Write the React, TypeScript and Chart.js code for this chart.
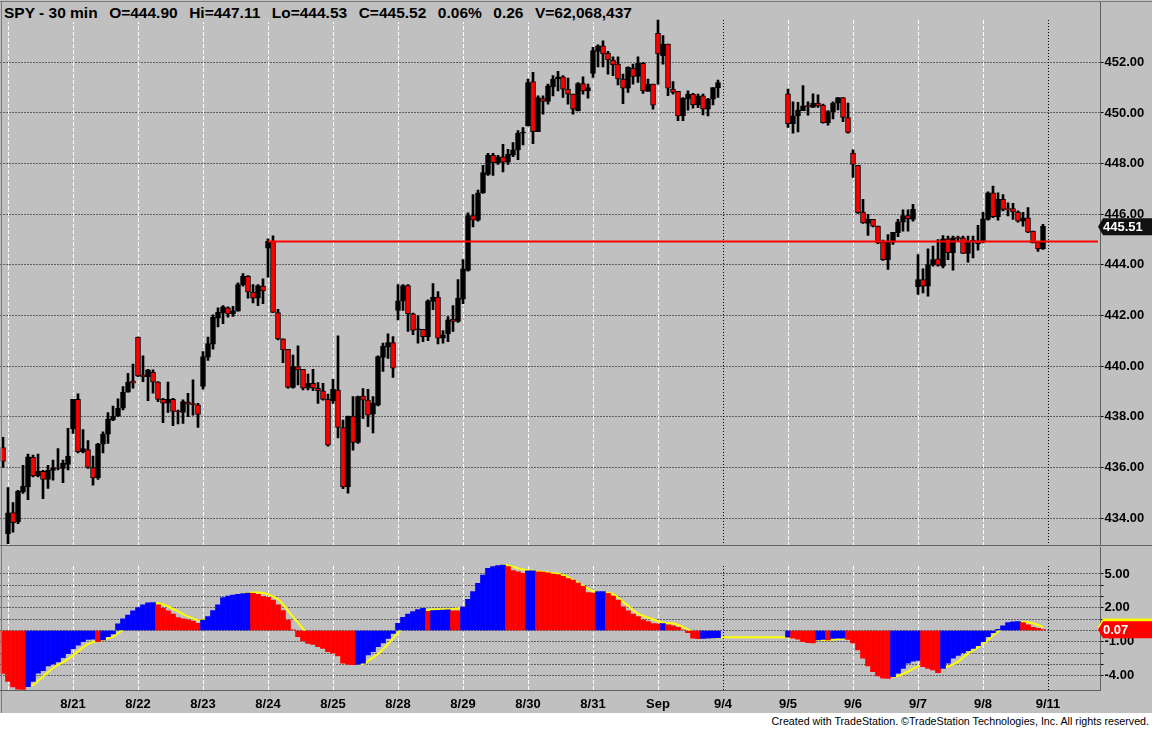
import { useEffect, useRef } from 'react';
import { Chart, registerables } from 'chart.js';

Chart.register(...registerables);
Chart.defaults.font.family = '"Liberation Sans", Arial, sans-serif';

// first bar of each session, and its axis label
const dayStarts = [1, 14, 27, 40, 53, 66, 79, 92, 105, 118, 131, 144, 157, 170, 183, 196, 209];
const dayLabels = ['', '8/21', '8/22', '8/23', '8/24', '8/25', '8/28', '8/29', '8/30', '8/31', 'Sep', '9/4', '9/5', '9/6', '9/7', '9/8', '9/11'];
const barSlots = 220;

const NA = null;

// 30 min bars, one row per session (9/4 is empty)
const opens = [
  436.79,
  433.39, 434.22, 433.85, 435.04, 435.23, 436.40, 435.67, 435.85, 435.53, 435.88, 436.00, 435.96, 436.12,
  437.52, 438.69, 436.63, 436.71, 436.00, 435.59, 436.92, 437.32, 437.88, 438.03, 438.34, 438.97, 439.42,
  441.15, 439.66, 439.59, 439.76, 439.37, 438.69, 438.54, 438.69, 438.22, 438.17, 438.58, 438.52, 438.47,
  439.20, 440.36, 440.87, 441.90, 442.10, 442.30, 442.06, 442.17, 443.22, 443.55, 442.93, 442.69, 443.16,
  444.66, 444.93, 442.12, 441.08, 440.67, 439.16, 439.98, 439.88, 439.13, 439.32, 439.13, 439.03, 438.69,
  438.64, 439.06, 437.58, 435.23, 438.03, 436.99, 438.82, 438.66, 438.11, 438.46, 440.35, 440.75, 440.93,
  442.20, 442.58, 443.18, 442.07, 441.44, 441.46, 441.17, 442.56, 442.73, 441.11, 441.28, 441.86, 441.77,
  442.65, 443.78, 445.95, 445.77, 446.85, 447.57, 448.33, 448.04, 448.27, 448.06, 448.33, 448.54, 449.20,
  449.49, 451.24, 449.26, 450.57, 450.45, 451.03, 451.34, 451.43, 450.94, 450.74, 450.08, 451.16, 450.87,
  451.56, 452.43, 452.65, 452.35, 452.09, 451.93, 451.34, 450.98, 451.76, 451.44, 451.96, 450.85, 451.14,
  453.14, 452.26, 452.72, 450.94, 450.85, 449.88, 450.55, 450.74, 450.32, 450.68, 450.15, 450.54, 451.00,
  NA, NA, NA, NA, NA, NA, NA, NA, NA, NA, NA, NA, NA,
  450.75, 449.58, 449.89, 450.09, 450.28, 450.22, 450.39, 450.31, 449.62, 450.05, 450.39, 450.61, 449.82,
  448.41, 447.93, 446.09, 445.64, 445.80, 445.53, 444.90, 444.21, 444.90, 445.27, 445.69, 445.95, 445.80,
  443.13, 443.42, 443.16, 444.01, 444.24, 443.95, 445.03, 444.48, 445.07, 445.07, 444.45, 444.94, 444.94,
  444.90, 445.80, 446.85, 445.90, 446.59, 446.22, 446.22, 446.09, 445.73, 445.86, 445.33, 444.90, 444.64,
];

const highs = [
  437.19,
  435.21, 434.61, 435.10, 436.09, 436.53, 436.49, 436.53, 435.89, 436.09, 436.29, 436.75, 436.29, 437.55,
  438.69, 438.91, 437.50, 437.06, 436.45, 436.95, 437.41, 438.17, 438.43, 438.71, 439.20, 439.72, 440.08,
  441.15, 440.41, 439.88, 439.86, 439.39, 438.73, 439.37, 438.73, 438.27, 438.67, 438.93, 439.46, 438.53,
  440.58, 441.15, 442.03, 442.30, 442.39, 442.34, 442.36, 443.29, 443.66, 443.58, 443.22, 443.22, 443.45,
  445.03, 445.15, 442.25, 441.08, 440.67, 440.44, 440.80, 439.88, 439.69, 439.88, 439.35, 439.32, 438.90,
  439.48, 441.20, 437.87, 438.03, 438.80, 438.82, 439.12, 439.09, 438.80, 440.41, 440.91, 441.28, 441.17,
  443.22, 443.22, 443.22, 442.10, 442.00, 441.46, 442.62, 443.26, 442.95, 441.41, 441.96, 442.39, 443.42,
  444.21, 446.06, 446.78, 446.95, 447.93, 448.40, 448.40, 448.33, 448.76, 448.56, 448.83, 449.30, 449.42,
  451.34, 451.60, 450.68, 450.68, 451.14, 451.47, 451.64, 451.47, 451.38, 450.74, 451.20, 451.43, 451.14,
  452.59, 452.69, 452.85, 452.43, 452.22, 452.22, 451.53, 451.82, 451.93, 452.22, 452.00, 451.34, 451.14,
  453.67, 453.05, 452.72, 451.24, 450.85, 450.61, 450.87, 450.77, 450.74, 450.74, 450.58, 451.00, 451.30,
  NA, NA, NA, NA, NA, NA, NA, NA, NA, NA, NA, NA, NA,
  450.94, 450.44, 450.42, 451.08, 450.44, 450.75, 450.71, 450.35, 450.09, 450.44, 450.61, 450.61, 450.39,
  448.54, 447.93, 446.59, 446.00, 445.80, 445.53, 444.98, 445.20, 445.29, 445.80, 446.17, 446.17, 446.39,
  444.41, 443.84, 444.63, 444.74, 445.00, 445.16, 445.14, 445.14, 445.14, 445.14, 445.14, 445.14, 445.56,
  446.08, 446.88, 447.11, 446.85, 446.78, 446.45, 446.43, 446.13, 446.08, 446.26, 445.33, 444.90, 445.60,
];

const lows = [
  436.00,
  432.99, 433.45, 433.78, 434.98, 434.73, 435.63, 435.63, 434.77, 435.17, 435.50, 435.90, 435.40, 435.90,
  437.35, 436.58, 436.58, 435.96, 435.30, 435.53, 436.58, 436.95, 437.85, 438.01, 438.27, 438.97, 439.13,
  439.59, 439.39, 438.64, 438.93, 438.60, 437.77, 438.17, 437.65, 437.72, 437.74, 438.01, 438.07, 437.58,
  439.09, 440.23, 440.67, 441.55, 441.68, 441.94, 441.97, 442.17, 443.16, 442.69, 442.50, 442.39, 442.47,
  443.52, 442.12, 441.04, 440.14, 439.13, 439.13, 439.26, 439.06, 439.06, 439.03, 438.53, 438.66, 436.84,
  438.53, 437.17, 435.16, 434.99, 436.68, 436.95, 437.94, 437.61, 437.37, 438.43, 439.79, 440.31, 439.56,
  441.83, 442.20, 441.37, 441.24, 440.91, 440.97, 441.01, 442.23, 440.88, 440.91, 440.97, 441.37, 441.73,
  442.47, 443.75, 445.50, 445.73, 446.82, 447.53, 447.53, 447.97, 447.67, 447.97, 448.27, 448.15, 448.74,
  449.49, 448.79, 449.26, 449.95, 450.35, 450.67, 450.87, 450.61, 450.35, 449.95, 450.08, 450.74, 450.58,
  451.40, 451.82, 451.82, 451.53, 451.47, 451.11, 450.37, 450.81, 451.14, 451.20, 450.77, 450.85, 450.15,
  451.14, 451.93, 450.68, 450.74, 449.69, 449.69, 450.11, 450.19, 450.21, 449.92, 449.88, 450.32, 450.61,
  NA, NA, NA, NA, NA, NA, NA, NA, NA, NA, NA, NA, NA,
  449.43, 449.20, 449.25, 450.09, 449.91, 450.22, 450.22, 449.60, 449.52, 449.76, 450.12, 449.65, 449.20,
  447.45, 446.03, 445.64, 445.16, 445.50, 444.84, 444.18, 443.82, 444.81, 445.11, 445.33, 445.33, 445.73,
  442.83, 442.89, 442.76, 443.95, 443.95, 443.88, 444.21, 443.79, 444.95, 444.45, 444.11, 444.28, 444.58,
  444.87, 445.77, 445.86, 445.77, 446.13, 445.93, 445.80, 445.69, 445.53, 445.27, 444.87, 444.53, 444.61,
];

const closes = [
  436.24,
  434.21, 433.82, 435.06, 435.26, 436.42, 435.67, 435.85, 435.53, 435.89, 435.99, 435.96, 436.16, 436.45,
  438.69, 436.63, 436.75, 436.00, 435.59, 436.92, 437.32, 437.91, 438.03, 438.34, 438.97, 439.37, 439.33,
  439.62, 439.58, 439.86, 439.37, 438.69, 438.54, 438.69, 438.21, 438.20, 438.60, 438.50, 438.48, 438.10,
  440.38, 440.89, 441.94, 442.13, 442.34, 442.06, 442.19, 443.22, 443.55, 442.93, 442.69, 443.18, 442.97,
  444.93, 442.12, 441.08, 440.64, 439.16, 439.98, 439.85, 439.13, 439.32, 439.13, 439.03, 438.69, 436.88,
  439.09, 437.58, 435.23, 438.03, 436.99, 438.80, 438.66, 438.07, 438.53, 440.38, 440.78, 440.93, 439.92,
  442.58, 443.18, 442.07, 441.41, 441.48, 441.17, 442.58, 442.73, 441.11, 441.24, 441.83, 441.77, 442.69,
  443.84, 445.95, 445.77, 446.85, 447.64, 448.33, 448.04, 448.27, 448.06, 448.37, 448.54, 449.20, 449.22,
  451.20, 449.26, 450.61, 450.45, 451.07, 451.34, 451.43, 450.94, 450.74, 450.15, 451.16, 450.87, 451.00,
  452.46, 452.65, 452.33, 452.09, 451.90, 451.34, 450.98, 451.80, 451.44, 451.96, 450.87, 451.14, 450.31,
  452.33, 452.72, 450.98, 450.81, 449.88, 450.58, 450.74, 450.32, 450.68, 450.15, 450.54, 451.00, 451.20,
  NA, NA, NA, NA, NA, NA, NA, NA, NA, NA, NA, NA, NA,
  449.58, 449.89, 450.11, 450.28, 450.25, 450.39, 450.28, 449.62, 450.05, 450.39, 450.61, 449.82, 449.23,
  447.97, 446.06, 445.66, 445.80, 445.53, 444.87, 444.21, 444.90, 445.29, 445.69, 445.95, 445.82, 446.19,
  443.42, 443.16, 444.01, 444.21, 443.99, 445.03, 444.48, 445.07, 445.05, 444.45, 444.94, 444.97, 444.84,
  445.82, 446.85, 445.90, 446.59, 446.19, 446.17, 446.09, 445.73, 445.86, 445.29, 444.87, 444.63, 445.52,
];

// oscillator histogram and its yellow average
const histogram = [
  -3.8,
  -4.5, -5.0, -5.2, -5.22, -4.97, -4.5, -3.79, -3.55, -3.14, -2.97, -2.79, -2.4, -2.05,
  -1.61, -1.3, -0.99, -0.8, -0.78, -0.99, -0.84, -0.55, -0.3, 0.58, 1.02, 1.37, 1.73,
  2.02, 2.26, 2.44, 2.46, 2.26, 1.96, 1.73, 1.46, 1.14, 1.02, 0.93, 0.84, 0.63,
  0.93, 1.22, 1.76, 2.26, 2.91, 3.05, 3.14, 3.2, 3.27, 3.3, 3.28, 3.2, 3.0,
  2.94, 2.7, 2.26, 1.76, 0.93, 0.05, -0.55, -0.9, -1.14, -1.23, -1.43, -1.58, -1.87,
  -2.02, -2.26, -2.9, -3.0, -3.02, -3.0, -2.9, -2.17, -1.87, -1.43, -1.1, -0.7, -0.25,
  0.63, 1.16, 1.46, 1.67, 1.85, 1.96, 1.7, 1.76, 1.79, 1.81, 1.83, 1.75, 1.73,
  2.1, 2.76, 3.44, 4.17, 4.9, 5.5, 5.65, 5.75, 5.8, 5.65, 5.3, 5.2, 5.06,
  5.27, 5.29, 5.2, 5.18, 5.1, 5.0, 4.95, 4.8, 4.6, 4.47, 4.2, 3.9, 3.35,
  3.3, 3.44, 3.45, 3.29, 3.05, 2.7, 2.1, 1.73, 1.46, 1.22, 0.93, 0.78, 0.6,
  0.58, 0.6, 0.49, 0.4, 0.28, 0.04, -0.19, -0.69, -0.72, -0.71, -0.69, -0.66, -0.63,
  NA, NA, NA, NA, NA, NA, NA, NA, NA, NA, NA, NA, NA,
  -0.6, -0.69, -0.78, -0.99, -1.08, -1.1, -0.84, -0.8, -0.84, -0.7, -0.69, -0.68, -0.8,
  -1.1, -1.73, -2.46, -3.14, -3.64, -4.03, -4.23, -4.25, -4.09, -3.79, -3.35, -2.9, -2.72,
  -2.65, -3.2, -3.35, -3.5, -3.73, -3.35, -2.9, -2.46, -2.2, -1.96, -1.78, -1.58, -1.35,
  -0.99, -0.55, -0.19, 0.1, 0.4, 0.69, 0.76, 0.78, 0.69, 0.49, 0.28, 0.19, 0.07,
];

const signal = [
  NA,
  NA, NA, NA, NA, -4.97, -4.82, -4.45, -4.09, -3.7, -3.35, -3.05, -2.8, -2.55,
  -2.2, -1.85, -1.5, -1.2, -1.02, -0.92, -0.84, -0.7, -0.55, -0.25, 0.08, 0.5, 0.9,
  1.3, 1.7, 2.05, 2.32, 2.42, 2.3, 2.12, 1.9, 1.7, 1.45, 1.25, 1.05, 0.9,
  0.92, 1.05, 1.3, 1.7, 2.15, 2.55, 2.85, 3.08, 3.23, 3.32, 3.36, 3.36, 3.32,
  3.2, 3.0, 2.76, 2.3, 1.75, 1.2, 0.7, 0.15, -0.35, -0.75, -1.1, -1.4, -1.65,
  -1.9, -2.15, -2.45, -2.7, -2.85, -2.95, -2.96, -2.7, -2.4, -2.08, -1.65, -1.2, -0.7,
  -0.2, 0.3, 0.75, 1.15, 1.45, 1.68, 1.82, 1.85, 1.86, 1.87, 1.88, 1.9, 1.95,
  2.05, 2.3, 2.75, 3.3, 3.95, 4.55, 5.1, 5.5, 5.78, 5.75, 5.65, 5.5, 5.4,
  5.33, 5.28, 5.22, 5.17, 5.13, 5.08, 5.03, 4.9, 4.72, 4.45, 4.22, 3.95, 3.7,
  3.48, 3.4, 3.36, 3.34, 3.23, 2.9, 2.55, 2.2, 1.81, 1.5, 1.28, 1.12, 0.99,
  0.82, 0.69, 0.65, 0.62, 0.5, 0.3, 0.1, -0.25, -0.5, -0.6, -0.63, -0.62, -0.6,
  -0.6, -0.6, -0.6, -0.6, -0.6, -0.6, -0.6, -0.6, -0.6, -0.6, -0.6, -0.6, -0.6,
  -0.6, -0.62, -0.65, -0.7, -0.75, -0.8, -0.83, -0.84, -0.82, -0.8, -0.75, -0.72, -0.7,
  -0.9, -1.3, -1.8, -2.4, -3.0, -3.5, -3.9, -4.09, -4.08, -4.03, -3.85, -3.64, -3.4,
  -3.18, -3.12, -3.14, -3.25, -3.33, -3.3, -3.2, -3.0, -2.76, -2.4, -2.05, -1.75, -1.5,
  -1.15, -0.85, -0.45, -0.1, 0.22, 0.49, 0.62, 0.7, 0.76, 0.72, 0.63, 0.48, 0.3,
];

const priceTicks = [434, 436, 438, 440, 442, 444, 446, 448, 450, 452];
const oscTicks = [-4, -3, -2, -1, 0, 1, 2, 3, 4, 5];
const oscLabeled = [5, 2, -1, -4];

const supportLevel = 444.92;
const supportFrom = 53;
const lastPrice = 445.51;

const titleParts = ['SPY - 30 min', 'O=444.90', 'Hi=447.11', 'Lo=444.53', 'C=445.52', '0.06%', '0.26', 'V=62,068,437'];

const RED = '#ff0000';
const BLUE = '#0000ff';
const BG = '#c0c0c0';
const AXIS_W = 51.5;

const labels = Array.from({ length: barSlots }, (_, i) => {
  const d = dayStarts.indexOf(i);
  return d >= 0 ? dayLabels[d] : '';
});

const dayLines = (topGap: number) => ({
  id: 'dayLines',
  beforeDatasetsDraw(chart: any) {
    const { ctx, chartArea, scales } = chart;
    ctx.save();
    ctx.lineWidth = 1;
    dayStarts.forEach((idx) => {
      const x = Math.round(scales.x.getPixelForValue(idx)) + 0.5;
      const empty = opens[idx] == null;
      ctx.strokeStyle = empty ? '#000' : '#fff';
      ctx.setLineDash(empty ? [1, 2] : [4, 2]);
      ctx.beginPath();
      ctx.moveTo(x, chartArea.top + topGap);
      ctx.lineTo(x, chartArea.bottom);
      ctx.stroke();
    });
    ctx.restore();
  },
});

function drawTag(ctx: CanvasRenderingContext2D, x: number, y: number, fill: string, text: string, color: string) {
  const h = 8.5;
  ctx.fillStyle = fill;
  ctx.beginPath();
  ctx.moveTo(x, y);
  ctx.lineTo(x + 5, y - h);
  ctx.lineTo(1152, y - h);
  ctx.lineTo(1152, y + h);
  ctx.lineTo(x + 5, y + h);
  ctx.closePath();
  ctx.fill();
  if (text) {
    ctx.fillStyle = color;
    ctx.font = 'bold 13px "Liberation Sans", Arial, sans-serif';
    ctx.textAlign = 'left';
    ctx.textBaseline = 'middle';
    ctx.fillText(text, x + 5, y + 0.5);
  }
}

const priceTag = {
  id: 'priceTag',
  afterDraw(chart: any) {
    const { ctx, chartArea, scales } = chart;
    ctx.save();
    drawTag(ctx, chartArea.right - 2.5, scales.y.getPixelForValue(lastPrice), '#111111', lastPrice.toFixed(2), '#ffffff');
    ctx.restore();
  },
};

const lastOf = (arr: (number | null)[]) => {
  for (let i = arr.length - 1; i >= 0; i--) if (arr[i] != null) return arr[i] as number;
  return 0;
};

const oscTags = {
  id: 'oscTags',
  afterDraw(chart: any) {
    const { ctx, chartArea, scales } = chart;
    const x = chartArea.right - 2.5;
    ctx.save();
    drawTag(ctx, x, scales.y.getPixelForValue(lastOf(signal)), '#ffff00', '', '#000');
    const h = lastOf(histogram);
    drawTag(ctx, x, scales.y.getPixelForValue(h), RED, h.toFixed(2), '#ffffff');
    ctx.restore();
  },
};

const histColors = histogram.map((v, i) => {
  if (v == null) return 'transparent';
  let p = i - 1;
  while (p >= 0 && histogram[p] == null) p--;
  if (p < 0) return RED;
  return v > (histogram[p] as number) ? BLUE : RED;
});

// fixed axis width, and no extra room for the end labels
const fixY = (scale: any) => {
  scale.width = AXIS_W;
  scale.paddingTop = 0;
  scale.paddingBottom = 0;
};

export default function App() {
  const mainRef = useRef<HTMLCanvasElement>(null);
  const oscRef = useRef<HTMLCanvasElement>(null);

  useEffect(() => {
    document.body.style.margin = '0';
    if (!mainRef.current || !oscRef.current) return;

    const wicks = highs.map((h, i) => (h == null ? null : [lows[i], h]));
    const bodies = opens.map((o, i) => (o == null ? null : [o, closes[i]]));
    const bodyColors = opens.map((o, i) => (o == null ? 'transparent' : (closes[i] as number) >= o ? '#000000' : RED));

    const yTicks = {
      color: '#000',
      font: { size: 13, weight: 'bold' as const },
      padding: 1,
      autoSkip: false,
    };

    const main = new Chart(mainRef.current, {
      type: 'bar',
      data: {
        labels,
        datasets: [
          {
            type: 'line',
            data: labels.map((_, i) => (i >= supportFrom ? supportLevel : null)),
            borderColor: RED,
            borderWidth: 2,
            pointRadius: 0,
            order: 0,
          } as any,
          {
            data: bodies as any,
            backgroundColor: bodyColors,
            borderColor: '#000000',
            borderWidth: 1,
            borderSkipped: false,
            barThickness: 5,
            minBarLength: 1,
            grouped: false,
            order: 1,
          },
          {
            data: wicks as any,
            backgroundColor: '#000000',
            borderWidth: 0,
            barThickness: 2,
            grouped: false,
            order: 2,
          },
        ],
      },
      options: {
        responsive: false,
        animation: false,
        events: [],
        layout: { padding: { left: 0.5, top: 2, bottom: 1, right: 0 } },
        plugins: { legend: { display: false }, tooltip: { enabled: false } },
        scales: {
          x: { type: 'category', display: false },
          y: {
            position: 'right',
            min: 432.94,
            max: 454.38,
            afterFit: fixY,
            afterBuildTicks: (s: any) => {
              s.ticks = priceTicks.map((value) => ({ value }));
            },
            ticks: { ...yTicks, callback: (v: any) => Number(v).toFixed(2) },
            grid: { color: '#000', lineWidth: 1, tickLength: 3, tickColor: '#000', tickBorderDash: [] },
            border: { display: true, color: '#606060', width: 1, dash: [1, 2] },
          },
        },
      },
      plugins: [dayLines(18), priceTag],
    });

    const osc = new Chart(oscRef.current, {
      type: 'bar',
      data: {
        labels,
        datasets: [
          {
            data: histogram as any,
            backgroundColor: histColors,
            borderWidth: 0,
            barPercentage: 1,
            categoryPercentage: 1,
            order: 1,
          },
          {
            type: 'line',
            data: signal as any,
            borderColor: '#ffff00',
            borderWidth: 2,
            pointRadius: 0,
            tension: 0.4,
            order: 2,
          } as any,
        ],
      },
      options: {
        responsive: false,
        animation: false,
        events: [],
        layout: { padding: { left: 0.5, top: 1, bottom: 0, right: 0 } },
        plugins: { legend: { display: false }, tooltip: { enabled: false } },
        scales: {
          x: {
            type: 'category',
            afterBuildTicks: (s: any) => {
              s.ticks = dayStarts.map((value) => ({ value }));
            },
            afterFit: (s: any) => {
              s.height = 23;
              s.paddingLeft = 0;
              s.paddingRight = 0;
            },
            ticks: {
              autoSkip: false,
              maxRotation: 0,
              minRotation: 0,
              color: '#000',
              font: { size: 13, weight: 'bold' },
              padding: 7,
            },
            grid: { display: false, drawTicks: false },
            border: { display: false },
          },
          y: {
            position: 'right',
            min: -5.27,
            max: 7.39,
            afterFit: fixY,
            afterBuildTicks: (s: any) => {
              s.ticks = oscTicks.map((value) => ({ value }));
            },
            ticks: {
              ...yTicks,
              callback: (v: any) => (oscLabeled.includes(Number(v)) ? Number(v).toFixed(2) : ''),
            },
            grid: { color: '#000', lineWidth: 1, tickLength: 3, tickColor: '#000', tickBorderDash: [] },
            border: { display: true, color: '#606060', width: 1, dash: [1, 2] },
          },
        },
      },
      plugins: [dayLines(19), oscTags],
    });

    return () => {
      main.destroy();
      osc.destroy();
    };
  }, []);

  const font = '"Liberation Sans", Arial, sans-serif';

  return (
    <div style={{ position: 'relative', width: 1152, height: 729, background: '#fff', overflow: 'hidden', fontFamily: font }}>
      <div style={{ position: 'absolute', left: 0, top: 0, width: 1152, height: 713, background: BG }} />
      <canvas ref={mainRef} width={1152} height={546} style={{ position: 'absolute', left: 0, top: 0 }} />
      <canvas ref={oscRef} width={1152} height={167} style={{ position: 'absolute', left: 0, top: 546 }} />
      {/* panel frame */}
      <div style={{ position: 'absolute', left: 0, top: 1, width: 1152, height: 1, background: '#7a7a7a' }} />
      <div style={{ position: 'absolute', left: 1, top: 1, width: 1, height: 712, background: '#7a7a7a' }} />
      <div style={{ position: 'absolute', left: 0, top: 545, width: 1152, height: 1, background: '#606060' }} />
      <div style={{ position: 'absolute', left: 0, top: 690, width: 1101, height: 1, background: '#606060' }} />
      <div
        style={{
          position: 'absolute',
          left: 4,
          top: 4,
          lineHeight: '18px',
          fontSize: 15.5,
          fontWeight: 'bold',
          color: '#000',
          whiteSpace: 'pre',
          background: BG,
        }}
      >
        {titleParts.map((t, i) => (
          <span key={t} style={{ marginLeft: i === 0 ? 0 : 11.5 }}>
            {t}
          </span>
        ))}
      </div>
      <div
        style={{
          position: 'absolute',
          right: 3,
          top: 714,
          lineHeight: '14px',
          fontSize: 10.7,
          color: '#000',
          whiteSpace: 'pre',
        }}
      >
        Created with TradeStation. ©TradeStation Technologies, Inc. All rights reserved.
      </div>
    </div>
  );
}
